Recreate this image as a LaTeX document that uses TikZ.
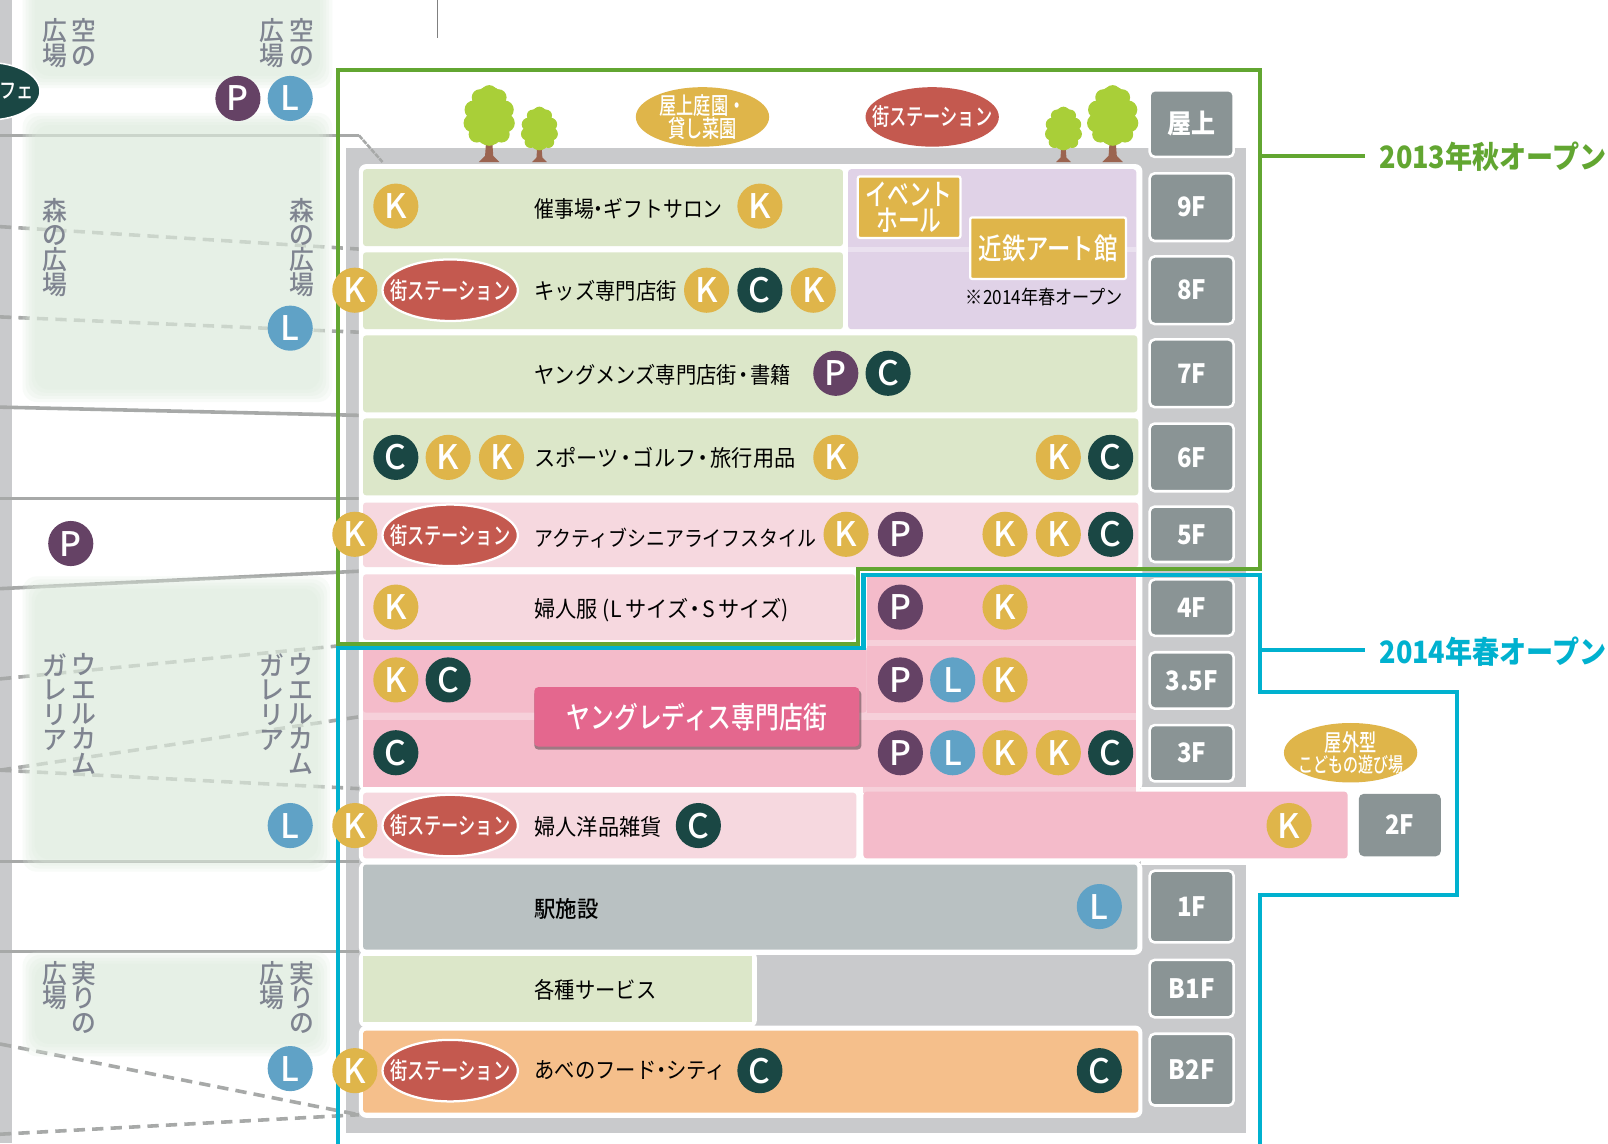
\documentclass[tikz,border=0pt]{standalone}
\usepackage{fontspec}
\setmainfont{Noto Sans CJK JP}
\newfontfamily\jp[FakeStretch=0.9]{Noto Sans CJK JP}
\newfontfamily\jpq[FakeStretch=0.88]{Noto Sans CJK JP}
\newfontfamily\jpr[FakeStretch=0.94]{Noto Sans CJK JP}
\newfontfamily\jpm[FakeStretch=0.8]{Noto Sans CJK JP Medium}
\newfontfamily\jpo[FakeStretch=0.73]{Noto Sans CJK JP Medium}
\newfontfamily\jpw[FakeStretch=0.95]{Noto Sans CJK JP Medium}
\newfontfamily\lat{Noto Sans CJK JP Medium}
\definecolor{wallgrey}{HTML}{C9CACC}
\definecolor{linegrey}{HTML}{A7A9A8}
\definecolor{plazagreen}{HTML}{DEECDE}
\definecolor{plazatext}{HTML}{7F8490}
\definecolor{autumn}{HTML}{62A631}
\definecolor{spring}{HTML}{00B1CF}
\definecolor{cgreen}{HTML}{DCE7C9}
\definecolor{cpurple}{HTML}{E0D2E7}
\definecolor{cpalepink}{HTML}{F6D8DF}
\definecolor{cpink}{HTML}{F4BBCA}
\definecolor{cstrip}{HTML}{F6D0DA}
\definecolor{cstone}{HTML}{B9C1C2}
\definecolor{corange}{HTML}{F5BF8B}
\definecolor{floorgrey}{HTML}{8A9495}
\definecolor{gold}{HTML}{DFB54A}
\definecolor{redoval}{HTML}{C4594F}
\definecolor{teal}{HTML}{1A4744}
\definecolor{plum}{HTML}{654265}
\definecolor{skyb}{HTML}{60A2C6}
\definecolor{rosebtn}{HTML}{E4678E}
\definecolor{leaf}{HTML}{A9CF38}
\definecolor{trunk}{HTML}{9B6450}
\newcommand\nk{\hspace{-5pt}・\hspace{-5pt}}
\newcommand\nw{\hspace{-3.5pt}・\hspace{-3.5pt}}
\tikzset{
  x=1pt,y=-1pt,
  wallline/.style={draw=linegrey,line width=3.5pt},
  walldash/.style={draw=linegrey,line width=3.5pt,dash pattern=on 11pt off 7pt},
  panel/.style={rounded corners=3pt},
  whiteback/.style={fill=white,rounded corners=7pt},
  roomtext/.style={inner sep=0pt,anchor=west,text=black,font=\jp\fontsize{22}{24}\selectfont},
  floorbox/.style={draw=white,line width=2.5pt,fill=floorgrey,rounded corners=5pt,text=white,inner sep=0pt,minimum width=82pt,font=\jp\bfseries\fontsize{26}{28}\selectfont},
  badge/.style={circle,inner sep=0pt,minimum size=44pt,text=white,font=\lat\fontsize{33}{35}\selectfont},
  bk/.style={badge,fill=gold},
  bc/.style={badge,fill=teal},
  bp/.style={badge,fill=plum},
  bl/.style={badge,fill=skyb},
  station/.style={ellipse,fill=redoval,draw=white,line width=2.2pt,minimum width=132pt,minimum height=60pt,inner xsep=-16pt,inner ysep=-8pt,text=white,font=\jpo\fontsize{23}{25}\selectfont},
  goldoval/.style={ellipse,fill=gold,minimum width=130pt,minimum height=58pt,inner xsep=-16pt,inner ysep=-12pt,text=white,align=center},
  goldbox/.style={fill=gold,draw=white,line width=2.2pt,inner sep=0pt,rounded corners=2pt,text=white,align=center},
  plaza/.style={inner sep=0pt,anchor=north,align=center,text=plazatext,font=\jpw\fontsize{25.5}{24}\selectfont},
  opentext/.style={inner sep=0pt,anchor=west,font=\jpq\bfseries\fontsize{30}{32}\selectfont},
}
\usetikzlibrary{shapes.geometric}
\newcommand\plazaarea[4]{%
  \foreach \d in {0,3,6,9,12}
    \fill[plazagreen,fill opacity=.209,rounded corners=14pt]
      (#1+\d,#2+\d) rectangle (#3-\d,#4-\d);}
\newcommand\treeat[3]{%
  \begin{scope}[shift={(#1,#2)},scale=#3]
    \fill[trunk] (-3,-20) -- (3,-20) -- (4,-6) -- (10,0) -- (-10,0) -- (-4,-6) -- cycle;
    \fill[leaf] (0,-45) ellipse [x radius=19,y radius=29];
    \foreach \a/\b/\r in {0/-67/8,-9/-63/8,9/-63/8,-15/-51/9,15/-51/9,-16/-38/9,16/-38/9,-12/-27/8,12/-27/8,0/-24/8}
      \fill[leaf] (\a,\b) circle [radius=\r];
  \end{scope}}
\begin{document}
\begin{tikzpicture}
\useasboundingbox (0,0) rectangle (1568,1114.6);
\fill[white] (0,0) rectangle (1568,1114.6);
% left wall
\fill[wallgrey] (0,0) rectangle (12,1114.6);
% building shell
\fill[wallgrey] (337,144) rectangle (1215,1105);
% wall lines
\coordinate (w1) at (0,132); \coordinate (e1) at (350,132); \coordinate (e1b) at (373,158);
\draw[wallline] (w1) -- (e1);
\draw[draw=linegrey,line width=2.5pt,dash pattern=on 5pt off 1pt] (e1) -- (e1b);
\coordinate (w2) at (0,221); \coordinate (e2) at (352,243);
\coordinate (w3) at (0,309); \coordinate (e3) at (352,324);
\draw[walldash] (w2) -- (e2);
\draw[walldash] (w3) -- (e3);
\coordinate (w4) at (0,397); \coordinate (e4) at (350,405);
\coordinate (w5) at (0,486); \coordinate (e5) at (350,486);
\coordinate (w6) at (0,574); \coordinate (e6) at (350,557);
\draw[wallline] (w4) -- (e4);
\draw[wallline] (w5) -- (e5);
\draw[wallline] (w6) -- (e6);
\coordinate (w7) at (0,662); \coordinate (e7) at (328,630);
\coordinate (w8) at (0,751); \coordinate (e8) at (350,699);
\coordinate (e9) at (350,769);
\draw[walldash] (w7) -- (e7);
\draw[walldash] (w8) -- (e8);
\draw[walldash] (w8) -- (e9);
\coordinate (w10) at (0,840); \coordinate (e10) at (350,840);
\coordinate (w11) at (0,928); \coordinate (e11) at (350,928);
\draw[wallline] (w10) -- (e10);
\draw[wallline] (w11) -- (e11);
\coordinate (w12) at (0,1018); \coordinate (w13) at (0,1106); \coordinate (e12) at (350,1087);
\draw[walldash] (w12) -- (e12);
\draw[walldash] (w13) -- (e12);
\coordinate (t1) at (427,0); \coordinate (t2) at (427,37);
\draw[draw=gray,line width=1pt] (t1) -- (t2);
% plazas
\plazaarea{22}{-30}{324}{86}
\plazaarea{22}{110}{324}{392}
\plazaarea{22}{562}{322}{850}
\plazaarea{22}{928}{322}{1030}
% white backgrounds
\fill[whiteback] (350,160) rectangle (1114,771);
\fill[white] (1113,767.5) rectangle (1225,843);
\fill[whiteback] (350,767) rectangle (1114,842);
\fill[whiteback] (350,840) rectangle (1114,931);
\fill[whiteback] (350,927) rectangle (738,1002);
\fill[whiteback] (350,1000) rectangle (1114,1090);
% rooms
\fill[cgreen,panel] (354,165) rectangle (822,240);
\fill[cgreen,panel] (354,246) rectangle (822,321);
\fill[cpurple,panel] (827,165) rectangle (1108,321);
\fill[white,fill opacity=.35] (827,241) rectangle (1108,246);
\fill[cgreen,panel] (354,327) rectangle (1109,402);
\fill[cgreen,panel] (354,408) rectangle (1110,483);
\fill[cpalepink,panel] (354,490) rectangle (1110,553);
\fill[cpalepink,panel] (354,560) rectangle (834,624);
\fill[cstrip] (845,622) rectangle (1108,632);
\fill[cpink] (845,563) rectangle (1108,624);
\fill[cstrip] (354,632) rectangle (1108,767);
\fill[cpink] (845,630) rectangle (1108,695);
\fill[cpink,panel] (354,632) rectangle (845,695);
\fill[cpink] (354,702) rectangle (1108,767);
\fill[cpalepink,panel] (354,773) rectangle (835,837);
\fill[cstrip] (842,767) rectangle (1108,773);
\fill[cpink,panel] (842,772) rectangle (1314,837);
\fill[cstone,panel] (354,843) rectangle (1109,926);
\fill[cgreen] (354,932) rectangle (733,997);
\fill[corange,panel] (354,1005) rectangle (1110,1085);
% opening borders
\coordinate (g1) at (330,68); \coordinate (g2) at (1229,68); \coordinate (g3) at (1229,555);
\coordinate (g4) at (837,555); \coordinate (g5) at (837,628); \coordinate (g6) at (330,628);
\draw[autumn,line width=4pt] (g1) -- (g2) -- (g3) -- (g4) -- (g5) -- (g6) -- cycle;
\coordinate (b1) at (330,1120); \coordinate (b2) at (330,632); \coordinate (b3) at (842,632);
\coordinate (b4) at (842,561); \coordinate (b5) at (1229,561); \coordinate (b6) at (1229,675);
\coordinate (b7) at (1421,675); \coordinate (b8) at (1421,873); \coordinate (b9) at (1229,873);
\coordinate (b10) at (1229,1120);
\draw[spring,line width=4pt] (b1) -- (b2) -- (b3) -- (b4) -- (b5) -- (b6) -- (b7) -- (b8) -- (b9) -- (b10);
\node[opentext,text=autumn] (open13) at (1345,153) {2013年秋オープン};
\node[opentext,text=spring] (open14) at (1345,635) {2014年春オープン};
\coordinate (ga) at (1229,152); \coordinate (sa) at (1229,634);
\draw[autumn,line width=4pt] (ga) -- ([xshift=-14pt]open13.west |- ga);
\draw[spring,line width=4pt] (sa) -- ([xshift=-14pt]open14.west |- sa);
% trees
\treeat{477}{158}{1}
\treeat{526}{158}{.72}
\treeat{1037}{158}{.72}
\treeat{1085}{158}{1}
% floor labels
\node[floorbox,minimum height=65pt] (f0) at (1162,120.5) {屋上};
\node[floorbox,minimum height=66pt] (f9) at (1162,202) {9F};
\node[floorbox,minimum height=66pt] (f8) at (1162,283) {8F};
\node[floorbox,minimum height=66pt] (f7) at (1162,364) {7F};
\node[floorbox,minimum height=66pt] (f6) at (1162,446) {6F};
\node[floorbox,minimum height=54pt] (f5) at (1162,521) {5F};
\node[floorbox,minimum height=55pt] (f4) at (1162,592.5) {4F};
\node[floorbox,minimum height=55pt] (f35) at (1162,663.5) {3.5F};
\node[floorbox,minimum height=55pt] (f3) at (1162,734.5) {3F};
\node[floorbox,minimum height=61pt,draw=none,minimum width=80pt] (f2) at (1365,804.5) {2F};
\node[floorbox,minimum height=70pt] (f1) at (1162,884) {1F};
\node[floorbox,minimum height=56pt] (fb1) at (1162,964) {B1F};
\node[floorbox,minimum height=70pt] (fb2) at (1162,1043) {B2F};
% plaza names
\node[plaza] (sky1a) at (82,18) {空\\の};
\node[plaza] (sky1b) at (54,18) {広\\場};
\node[plaza] (sky2a) at (294,18) {空\\の};
\node[plaza] (sky2b) at (265,18) {広\\場};
\node[plaza] (forest1) at (54,193) {森\\の\\広\\場};
\node[plaza] (forest2) at (294,193) {森\\の\\広\\場};
\node[plaza] (wel1a) at (82,637) {ウ\\エ\\ル\\カ\\ム};
\node[plaza] (wel1b) at (54,637) {ガ\\レ\\リ\\ア};
\node[plaza] (wel2a) at (293,637) {ウ\\エ\\ル\\カ\\ム};
\node[plaza] (wel2b) at (265,637) {ガ\\レ\\リ\\ア};
\node[plaza] (fruit1a) at (82,937) {実\\り\\の};
\node[plaza] (fruit1b) at (54,937) {広\\場};
\node[plaza] (fruit2a) at (294,937) {実\\り\\の};
\node[plaza] (fruit2b) at (265,937) {広\\場};
% cafe
\node[ellipse,fill=teal,draw=white,line width=1.5pt,minimum width=100pt,minimum height=56pt,inner sep=0pt] (cafe) at (-11,89) {};
\node[inner sep=0pt,anchor=east,text=white,font=\jpm\fontsize{21}{23}\selectfont] (cafet) at (33,89) {フェ};
% room texts
\node[roomtext,font=\jpq\fontsize{22}{24}\selectfont] (r9) at (521,204) {催事場\nk ギフトサロン};
\node[roomtext] (r8) at (521,284) {キッズ専門店街};
\node[roomtext] (r7) at (521,366) {ヤングメンズ専門店街\nw 書籍};
\node[roomtext,font=\jpr\fontsize{22}{24}\selectfont] (r6) at (521,446) {スポーツ\nw ゴルフ\nw 旅行用品};
\node[roomtext,font=\jpq\fontsize{21}{24}\selectfont] (r5) at (521,525) {アクティブシニアライフスタイル};
\node[roomtext,font=\jpr\fontsize{22}{24}\selectfont] (r4) at (521,595) {婦人服 (L\,サイズ\nw S\,サイズ)};
\node[roomtext,font=\jpr\fontsize{22}{24}\selectfont] (r2) at (521,806) {婦人洋品雑貨};
\node[roomtext,font=\jpw\fontsize{22}{24}\selectfont] (r1) at (521,886) {駅施設};
\node[roomtext] (rb1) at (521,965) {各種サービス};
\node[roomtext,font=\jp\fontsize{22}{24}\selectfont] (rb2) at (521,1044) {あべのフード\nk シティ};
% gold boxes
\node[goldbox,minimum width=100pt,minimum height=60pt,font=\jpo\fontsize{29}{25}\selectfont] (event) at (886.5,202) {イベント\\ホール};
\node[goldbox,minimum width=152pt,minimum height=60pt,font=\jpm\fontsize{28.5}{30}\selectfont] (art) at (1022,242) {近鉄アート館};
\node[inner sep=0pt,text=black,font=\jpq\fontsize{19}{22}\selectfont] (artnote) at (1018.5,290) {※2014年春オープン};
% button
\fill[black,fill opacity=.35,rounded corners=4pt] (521,673) rectangle (840,731);
\node[fill=rosebtn,rounded corners=4pt,minimum width=317pt,minimum height=58pt,inner sep=0pt,text=white,font=\jpm\fontsize{29}{31}\selectfont] (young) at (679.5,699) {ヤングレディス専門店街};
% ovals
\node[goldoval,font=\jpo\fontsize{23}{21}\selectfont] (garden) at (685,114) {屋上庭園・\\貸し菜園};
\node[ellipse,fill=redoval,minimum width=130pt,minimum height=58pt,inner xsep=-16pt,inner ysep=-8pt,text=white,font=\jpo\fontsize{23}{25}\selectfont] (st0) at (909,114) {街ステーション};
\node[goldoval,font=\jpo\fontsize{20}{20}\selectfont] (play) at (1317,734) {{\fontsize{23}{20}\selectfont 屋外型}\\こどもの遊び場};
\node[station] (st8) at (439,283) {街ステーション};
\node[station] (st5) at (439,522) {街ステーション};
\node[station] (st2) at (439,805) {街ステーション};
\node[station] (stb2) at (439,1044) {街ステーション};
% badges
\foreach \x/\y [count=\i] in {386/201,741/201,346/283,689/283,793/283,437/446,489/446,815/446,1032/446,346/521,825/521,980/521,1032/521,386/592,980/592,386/663,980/663,980/734,1032/734,346/805,1257/805,346/1044}
  \node[bk] (k\i) at (\x,\y) {K};
\foreach \x/\y [count=\i] in {741/283,866/364,386/446,1083/446,1083/521,437/663,386/734,1083/734,681/805,741/1044,1072/1044}
  \node[bc] (c\i) at (\x,\y) {C};
\foreach \x/\y [count=\i] in {232/96,815/364,878/521,69/530,878/592,878/663,878/734}
  \node[bp] (p\i) at (\x,\y) {P};
\foreach \x/\y [count=\i] in {283/96,283/320,929/663,929/734,283/805,1072/884,283/1042}
  \node[bl] (l\i) at (\x,\y) {L};
\end{tikzpicture}
\end{document}
